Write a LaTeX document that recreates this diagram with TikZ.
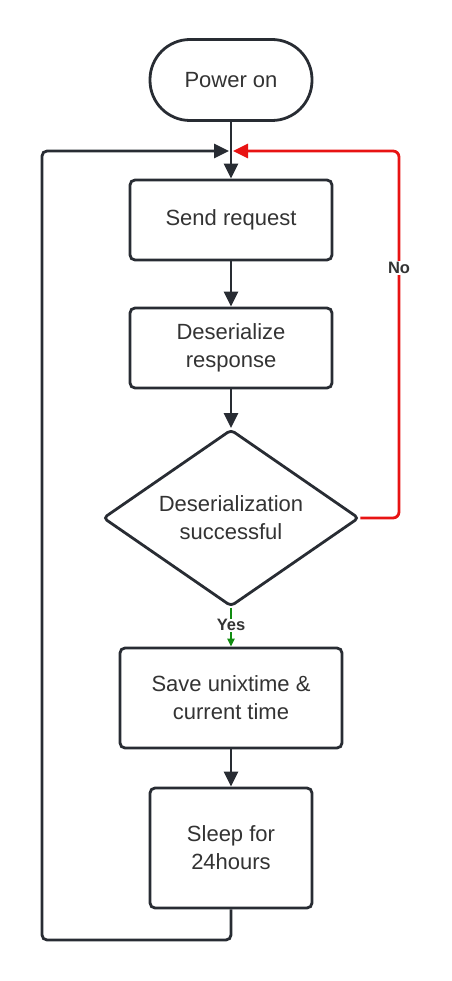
\documentclass[tikz,border=0pt]{standalone}
\usepackage{fontspec}
\setmainfont{Liberation Sans}
\usetikzlibrary{arrows.meta,shapes.geometric}
\definecolor{ln}{HTML}{282C33}
\definecolor{tx}{HTML}{333333}
\definecolor{rd}{HTML}{E81313}
\definecolor{gn}{HTML}{118C11}
\begin{document}
\begin{tikzpicture}[x=1pt,y=-1pt,
  box/.style={draw=ln,line width=2.8pt,rounded corners=5pt,align=center,text=tx,
    font=\fontsize{22}{28}\selectfont,inner sep=0pt},
  term/.style={box,rounded corners=40pt},
  dec/.style={draw=ln,line width=2.8pt,diamond,aspect=1.446,minimum width=256pt,minimum height=177pt,
    inner sep=0pt,align=center,text=tx,font=\fontsize{22}{28}\selectfont,rounded corners=4pt},
  flow/.style={draw=ln,line width=2.8pt,-{Triangle[length=15pt,width=14pt]}},
  lbl/.style={fill=white,text=tx,font=\bfseries\fontsize{16.5}{20}\selectfont,inner sep=1pt}]
\useasboundingbox (0,0) rectangle (451,981);
\node[term,minimum width=162pt,minimum height=81pt] (power) at (231,80) {Power on};
\node[box,minimum width=202pt,minimum height=80pt] (send) at (231,220) {Send request};
\node[box,minimum width=202pt,minimum height=80pt] (deser) at (231,348) {Deserialize\\response};
\node[dec] (dc) at (231,518) {Deserialization\\successful};
\node[box,minimum width=222pt,minimum height=100pt] (save) at (231,698) {Save unixtime \&\\current time};
\node[box,minimum width=162pt,minimum height=120pt] (sleep) at (231,848) {Sleep for\\24hours};
\coordinate (j) at (231,151);
\coordinate (jl) at (229,151);
\coordinate (jr) at (233,151);
\coordinate (rt) at (399,151);
\coordinate (rb) at (399,518);
\coordinate (lt) at (42,151);
\coordinate (lb) at (42,940);
\coordinate (bb) at (231,940);
\draw[flow] (power.south) -- (send.north);
\draw[flow] (send.south) -- (deser.north);
\draw[flow] (deser.south) -- (dc.north);
\draw[flow] (save.south) -- (sleep.north);
\draw[flow,rounded corners=5pt] (sleep.south) -- (bb) -- (lb) -- (lt) -- (jl);
\draw[flow,draw=rd,rounded corners=6pt] (dc.east) -- (rb) -- (rt) -- (jr);
\draw[draw=gn,line width=2.4pt,-{Triangle[length=8pt,width=7pt]}] (dc.south) -- node[lbl,pos=0.45]{Yes} (save.north);
\node[lbl] (no) at (399,268) {No};
\end{tikzpicture}
\end{document}
